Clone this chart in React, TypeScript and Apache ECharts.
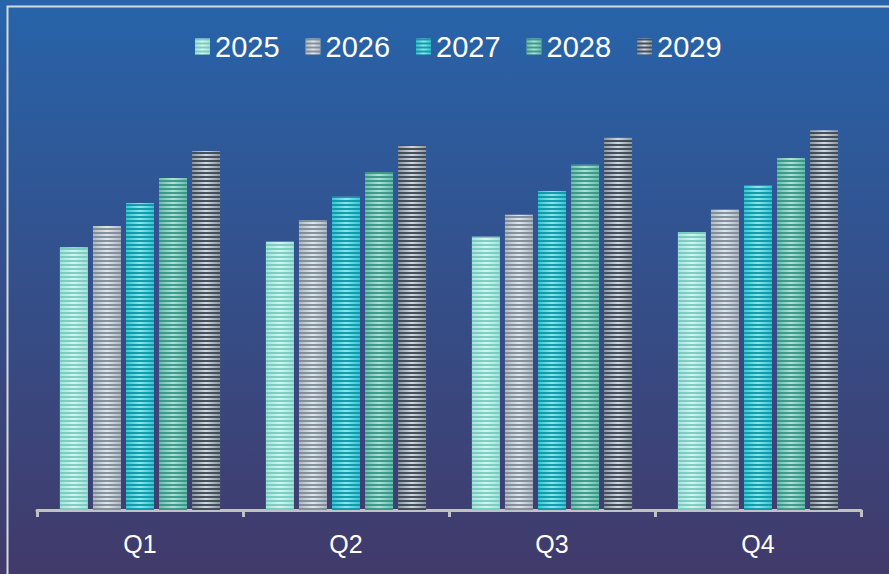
import React, { useEffect, useRef } from "react";
import * as echarts from "echarts";

const categories = ["Q1", "Q2", "Q3", "Q4"];
const seriesNames = ["2025", "2026", "2027", "2028", "2029"];
const values2025 = [58.4, 59.6, 60.7, 61.8];
const values2026 = [63.1, 64.4, 65.6, 66.7];
const values2027 = [68.2, 69.6, 70.9, 72.2];
const values2028 = [73.8, 75.1, 76.7, 78.2];
const values2029 = [79.8, 81.1, 82.7, 84.4];
const allValues = [values2025, values2026, values2027, values2028, values2029];

// [edge light stripe, center light stripe, dark stripe]
const palette = [
  ["#a6e2d9", "#d6f5f0", "rgba(110,200,188,0.85)"],
  ["#aeb8c2", "#e2e7ec", "rgba(120,132,146,0.85)"],
  ["#3cc4d2", "#8ee6ee", "rgba(8,150,166,0.9)"],
  ["#6cbcae", "#b0e2d8", "rgba(52,148,132,0.9)"],
  ["#8a96a2", "#d2d8de", "rgba(58,70,82,0.92)"],
];

export default function App() {
  const ref = useRef<HTMLDivElement>(null);
  useEffect(() => {
    if (!ref.current) return;
    const chart = echarts.init(ref.current, null, { renderer: "svg" });
    const series = seriesNames.map((name, i) => ({
      name,
      type: "bar",
      data: allValues[i],
      barWidth: 28,
      barGap: "18%",
      itemStyle: {
        color: new echarts.graphic.LinearGradient(0, 0, 1, 0, [
          { offset: 0, color: palette[i][0] },
          { offset: 0.5, color: palette[i][1] },
          { offset: 1, color: palette[i][0] },
        ]),
        decal: {
          symbol: "rect",
          dashArrayX: [1, 0],
          dashArrayY: [2, 2],
          rotation: 0,
          color: palette[i][2],
        },
      },
    }));
    chart.setOption({
      animation: false,
      backgroundColor: new echarts.graphic.LinearGradient(0, 0, 0, 1, [
        { offset: 0, color: "#2764aa" },
        { offset: 1, color: "#413a6a" },
      ]),
      graphic: [
        {
          type: "rect",
          shape: { x: 7.5, y: 6.5, width: 900, height: 600 },
          style: { fill: "none", stroke: "#d6d9de", lineWidth: 2 },
          silent: true,
        },
      ],
      legend: {
        top: 27,
        left: 190,
        icon: "rect",
        itemWidth: 15,
        itemHeight: 16,
        itemGap: 26,
        textStyle: {
          color: "#ffffff",
          fontSize: 29,
          fontFamily: "Liberation Sans, Arial, sans-serif",
        },
        data: seriesNames,
      },
      grid: { left: 37, right: 28, top: 60, bottom: 64, containLabel: false },
      xAxis: {
        type: "category",
        data: categories,
        boundaryGap: true,
        axisLine: { lineStyle: { color: "#c0c2c6", width: 3 } },
        axisTick: { show: true, length: 7, lineStyle: { color: "#c0c2c6", width: 3 } },
        axisLabel: {
          color: "#ffffff",
          fontSize: 25,
          margin: 21,
          fontFamily: "Liberation Sans, Arial, sans-serif",
        },
      },
      yAxis: {
        type: "value",
        min: 0,
        max: 100,
        show: false,
        splitLine: { show: false },
      },
      series,
    });
    return () => chart.dispose();
  }, []);
  return (
    <div
      ref={ref}
      style={{ position: "absolute", left: 0, top: 0, width: 889, height: 574 }}
    />
  );
}
